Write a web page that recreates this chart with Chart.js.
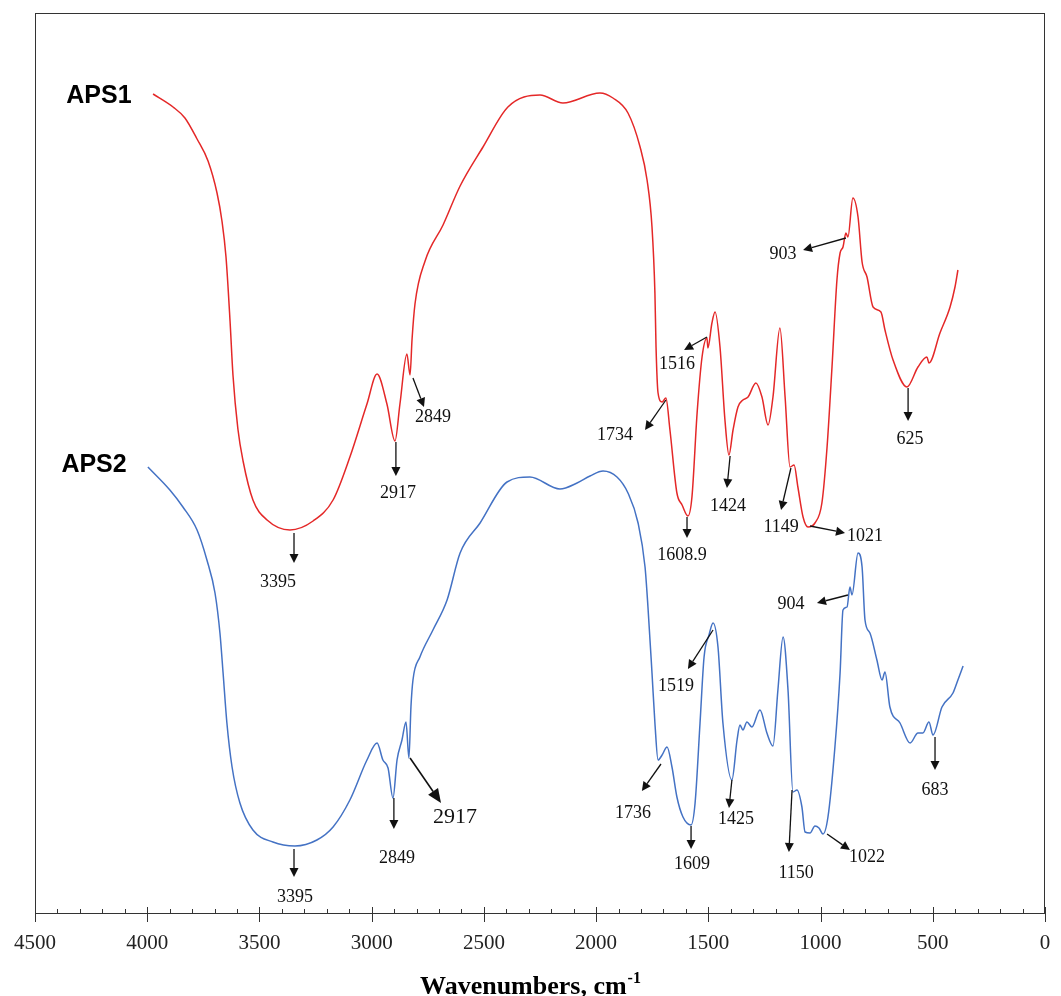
<!DOCTYPE html>
<html>
<head>
<meta charset="utf-8">
<script src="https://cdn.jsdelivr.net/npm/chart.js@4.4.1/dist/chart.umd.min.js"></script>
<style>
  html, body { margin: 0; padding: 0; background: #fff; }
  #wrap { width: 1061px; height: 996px; position: relative; }
</style>
</head>
<body>
<div id="wrap"><canvas id="ftir"></canvas></div>
<script>
// Spectra: wavenumber (cm-1) and relative transmittance (arb. units)
const wnAPS1 = [3974, 3885, 3832, 3778, 3729, 3689, 3667, 3649, 3631, 3618, 3596, 3573, 3529, 3466, 3364, 3261, 3172, 3097, 3021, 2976, 2932, 2896, 2874, 2843, 2829, 2820, 2807, 2762, 2682, 2606, 2504, 2393, 2250, 2148, 1983, 1925, 1858, 1804, 1773, 1751, 1738, 1733, 1724, 1706, 1689, 1671, 1640, 1617, 1591, 1573, 1550, 1528, 1506, 1502, 1484, 1470, 1448, 1426, 1408, 1390, 1368, 1346, 1323, 1288, 1261, 1234, 1212, 1181, 1158, 1136, 1118, 1101, 1078, 1056, 1025, 994, 971, 949, 927, 913, 900, 887, 878, 856, 833, 815, 793, 766, 731, 713, 677, 615, 566, 526, 517, 468, 423, 401, 388];
const tAPS1 = [81.9, 80.6, 79.5, 77.4, 75.2, 72.0, 69.2, 65.6, 59.2, 53.8, 48.4, 45.2, 41.3, 39.3, 38.3, 39.2, 41.3, 45.6, 50.9, 53.9, 50.9, 47.2, 50.9, 55.9, 53.8, 57.4, 60.9, 65.2, 68.8, 72.7, 76.6, 80.6, 81.8, 81.0, 82.0, 81.5, 80.0, 76.6, 73.3, 68.6, 62.0, 56.6, 52.0, 51.1, 51.5, 48.3, 42.0, 40.8, 39.7, 41.6, 50.0, 55.6, 57.5, 56.5, 59.0, 60.1, 56.6, 49.3, 45.8, 48.3, 50.6, 51.3, 51.6, 53.0, 51.6, 48.8, 51.6, 58.5, 51.6, 44.6, 44.8, 42.6, 39.6, 38.6, 39.0, 41.0, 46.6, 54.6, 63.3, 66.0, 66.6, 68.0, 67.6, 71.5, 69.6, 65.1, 63.6, 60.6, 60.1, 58.3, 55.3, 52.6, 54.6, 55.6, 55.0, 58.0, 60.6, 62.6, 64.3];

const wnAPS2 = [3997, 3899, 3841, 3778, 3734, 3698, 3676, 3662, 3645, 3622, 3587, 3529, 3440, 3342, 3244, 3172, 3097, 3021, 2976, 2950, 2927, 2905, 2887, 2865, 2847, 2834, 2825, 2816, 2785, 2727, 2664, 2606, 2517, 2397, 2295, 2161, 2085, 2027, 1969, 1907, 1858, 1813, 1782, 1769, 1751, 1738, 1724, 1706, 1684, 1662, 1640, 1613, 1577, 1559, 1537, 1519, 1497, 1479, 1457, 1435, 1395, 1372, 1359, 1346, 1328, 1306, 1270, 1239, 1212, 1190, 1167, 1145, 1123, 1105, 1083, 1069, 1047, 1025, 1007, 989, 967, 936, 913, 900, 882, 869, 860, 833, 815, 802, 780, 749, 726, 713, 691, 646, 601, 566, 544, 517, 499, 459, 410, 388, 365];
const tAPS2 = [44.6, 42.3, 40.6, 38.3, 35.3, 32.0, 28.0, 24.0, 19.0, 14.6, 11.0, 8.3, 7.1, 6.7, 7.3, 8.6, 11.3, 15.3, 17.0, 15.3, 14.5, 11.5, 15.3, 17.3, 19.1, 15.5, 20.6, 23.3, 25.6, 28.3, 31.3, 36.0, 39.0, 43.1, 43.6, 42.4, 43.0, 43.7, 44.2, 43.6, 42.0, 39.0, 34.6, 30.6, 24.0, 19.0, 15.3, 15.8, 16.6, 14.6, 11.6, 9.6, 8.8, 11.0, 19.0, 25.6, 27.8, 29.0, 26.6, 19.0, 13.3, 17.3, 18.8, 18.3, 19.1, 18.6, 20.3, 18.0, 16.7, 22.3, 27.6, 22.3, 12.1, 12.3, 10.6, 8.1, 8.0, 8.7, 8.5, 7.9, 9.6, 16.6, 24.0, 30.3, 30.6, 32.6, 31.8, 36.0, 34.6, 29.3, 28.0, 25.3, 23.3, 24.1, 20.6, 19.0, 17.0, 18.0, 18.0, 19.1, 17.8, 20.6, 22.0, 23.3, 24.7];

const xTickValues = [4500, 4000, 3500, 3000, 2500, 2000, 1500, 1000, 500, 0];
const seriesNames = ["APS1", "APS2"];

// peak labels: text, arrow tail (wn, T), arrow tip (wn, T), label centre (wn, T)
const peakNotes = [
    ["3395", 3346, 38.0, 3346, 35.0, 3417, 33.1],
    ["2917", 2892, 47.1, 2892, 43.7, 2883, 42.0],
    ["2849", 2816, 53.5, 2767, 50.6, 2727, 49.6],
    ["1734", 1689, 51.3, 1782, 48.3, 1916, 47.8],
    ["1516", 1506, 57.6, 1608, 56.3, 1640, 54.9],
    ["1608.9", 1595, 39.6, 1595, 37.5, 1617, 35.8],
    ["1424", 1403, 45.7, 1417, 42.5, 1412, 40.7],
    ["1149", 1132, 44.5, 1176, 40.3, 1176, 38.6],
    ["1021", 1047, 38.7, 891, 38.0, 802, 37.7],
    ["903", 887, 67.5, 1078, 66.3, 1167, 65.9],
    ["625", 610, 52.5, 610, 49.2, 602, 47.4],
    ["3395", 3346, 6.4, 3346, 3.6, 3342, 1.6],
    ["2849", 2901, 11.5, 2901, 8.4, 2887, 5.5],
    ["2917", 2829, 15.5, 2691, 11.0, 2629, 9.6, "big"],
    ["1736", 1711, 14.9, 1796, 12.2, 1836, 10.0],
    ["1519", 1479, 28.3, 1591, 24.4, 1644, 22.7],
    ["1609", 1577, 8.7, 1577, 6.4, 1573, 4.9],
    ["1425", 1395, 13.3, 1408, 10.5, 1377, 9.4],
    ["1150", 1127, 12.3, 1141, 6.1, 1109, 4.0],
    ["1022", 971, 7.9, 869, 6.3, 793, 5.6],
    ["904", 878, 31.8, 1016, 31.0, 1132, 30.9],
    ["683", 490, 17.6, 490, 14.3, 490, 12.3]
];
// sample names placed beside the curves
const seriesLabelPos = [[4215, 81.7], [4237, 44.8]];

function toPoints(xs, ys) {
    return xs.map((x, i) => ({ x: x, y: ys[i] }));
}

function drawArrow(ctx, x1, y1, x2, y2, headLen, headW) {
    const ang = Math.atan2(y2 - y1, x2 - x1);
    const bx = x2 - headLen * Math.cos(ang);
    const by = y2 - headLen * Math.sin(ang);
    ctx.beginPath();
    ctx.moveTo(x1, y1);
    ctx.lineTo(bx, by);
    ctx.stroke();
    ctx.beginPath();
    ctx.moveTo(x2, y2);
    ctx.lineTo(bx + headW * Math.sin(ang), by - headW * Math.cos(ang));
    ctx.lineTo(bx - headW * Math.sin(ang), by + headW * Math.cos(ang));
    ctx.closePath();
    ctx.fill();
}

// frame, minor/major ticks, peak arrows, labels and axis title
const decorPlugin = {
    id: "decor",
    afterDraw(chart) {
        const ctx = chart.ctx;
        const area = chart.chartArea;
        const xs = chart.scales.x;
        const ys = chart.scales.y;
        ctx.save();

        ctx.strokeStyle = "#333";
        ctx.lineWidth = 1;
        ctx.strokeRect(area.left + 0.5, area.top + 0.5, area.right - area.left - 1, area.bottom - area.top);

        ctx.beginPath();
        for (let v = 0; v <= 4500; v += 100) {
            const px = Math.round(xs.getPixelForValue(v)) + 0.5;
            if (v % 500 === 0) {
                ctx.moveTo(px, area.bottom - 6);
                ctx.lineTo(px, area.bottom + 9);
            } else {
                ctx.moveTo(px, area.bottom - 4);
                ctx.lineTo(px, area.bottom);
            }
        }
        ctx.stroke();

        ctx.strokeStyle = "#111";
        ctx.fillStyle = "#111";
        ctx.textAlign = "center";
        ctx.textBaseline = "middle";
        peakNotes.forEach(n => {
            const big = n[7] === "big";
            ctx.lineWidth = big ? 1.6 : 1.3;
            drawArrow(ctx,
                xs.getPixelForValue(n[1]), ys.getPixelForValue(n[2]),
                xs.getPixelForValue(n[3]), ys.getPixelForValue(n[4]),
                big ? 14 : 9, big ? 6 : 4.5);
            ctx.font = (big ? "22px" : "18px") + " 'Liberation Serif', 'Times New Roman', serif";
            ctx.fillText(n[0], xs.getPixelForValue(n[5]), ys.getPixelForValue(n[6]));
        });

        ctx.fillStyle = "#000";
        ctx.font = "bold 25px 'Liberation Sans', Arial, sans-serif";
        seriesNames.forEach((name, i) => {
            ctx.fillText(name, xs.getPixelForValue(seriesLabelPos[i][0]), ys.getPixelForValue(seriesLabelPos[i][1]));
        });

        // axis title with superscript
        ctx.textBaseline = "alphabetic";
        ctx.textAlign = "left";
        const main = "Wavenumbers, cm";
        const sup = "-1";
        ctx.font = "bold 26px 'Liberation Serif', 'Times New Roman', serif";
        const w1 = ctx.measureText(main).width;
        ctx.font = "bold 16px 'Liberation Serif', 'Times New Roman', serif";
        const w2 = ctx.measureText(sup).width;
        const x0 = 530 - (w1 + w2) / 2;
        ctx.font = "bold 26px 'Liberation Serif', 'Times New Roman', serif";
        ctx.fillText(main, x0, 994);
        ctx.font = "bold 16px 'Liberation Serif', 'Times New Roman', serif";
        ctx.fillText(sup, x0 + w1 + 1, 983);
        ctx.restore();
    }
};

function createSpectrumChart(canvasId) {
    const ctx = document.getElementById(canvasId).getContext("2d");
    return new Chart(ctx, {
        type: "line",
        data: {
            datasets: [{
                label: seriesNames[0],
                data: toPoints(wnAPS1, tAPS1),
                borderColor: "rgb(228, 40, 40)",
                borderWidth: 1.5,
                pointRadius: 0,
                cubicInterpolationMode: "monotone",
                fill: false
            }, {
                label: seriesNames[1],
                data: toPoints(wnAPS2, tAPS2),
                borderColor: "rgb(68, 114, 196)",
                borderWidth: 1.5,
                pointRadius: 0,
                cubicInterpolationMode: "monotone",
                fill: false
            }]
        },
        options: {
            responsive: true,
            maintainAspectRatio: false,
            animation: false,
            layout: { autoPadding: false, padding: { left: 35, right: 16, top: 13, bottom: 0 } },
            plugins: {
                legend: { display: false },
                tooltip: { enabled: false }
            },
            scales: {
                x: {
                    type: "linear",
                    reverse: true,
                    min: 0,
                    max: 4500,
                    afterBuildTicks: scale => {
                        scale.ticks = xTickValues.map(v => ({ value: v }));
                    },
                    afterFit: scale => {
                        scale.height = 83;
                        scale.paddingLeft = 0;
                        scale.paddingRight = 0;
                    },
                    grid: { display: false, drawTicks: false },
                    border: { display: false },
                    ticks: {
                        padding: 18,
                        maxRotation: 0,
                        autoSkip: false,
                        color: "#222",
                        callback: v => String(v),
                        font: { family: "'Liberation Serif', 'Times New Roman', serif", size: 21 }
                    }
                },
                y: {
                    display: false,
                    min: 0,
                    max: 90
                }
            }
        },
        plugins: [decorPlugin]
    });
}

document.addEventListener("DOMContentLoaded", () => {
    createSpectrumChart("ftir");
});
</script>
</body>
</html>
